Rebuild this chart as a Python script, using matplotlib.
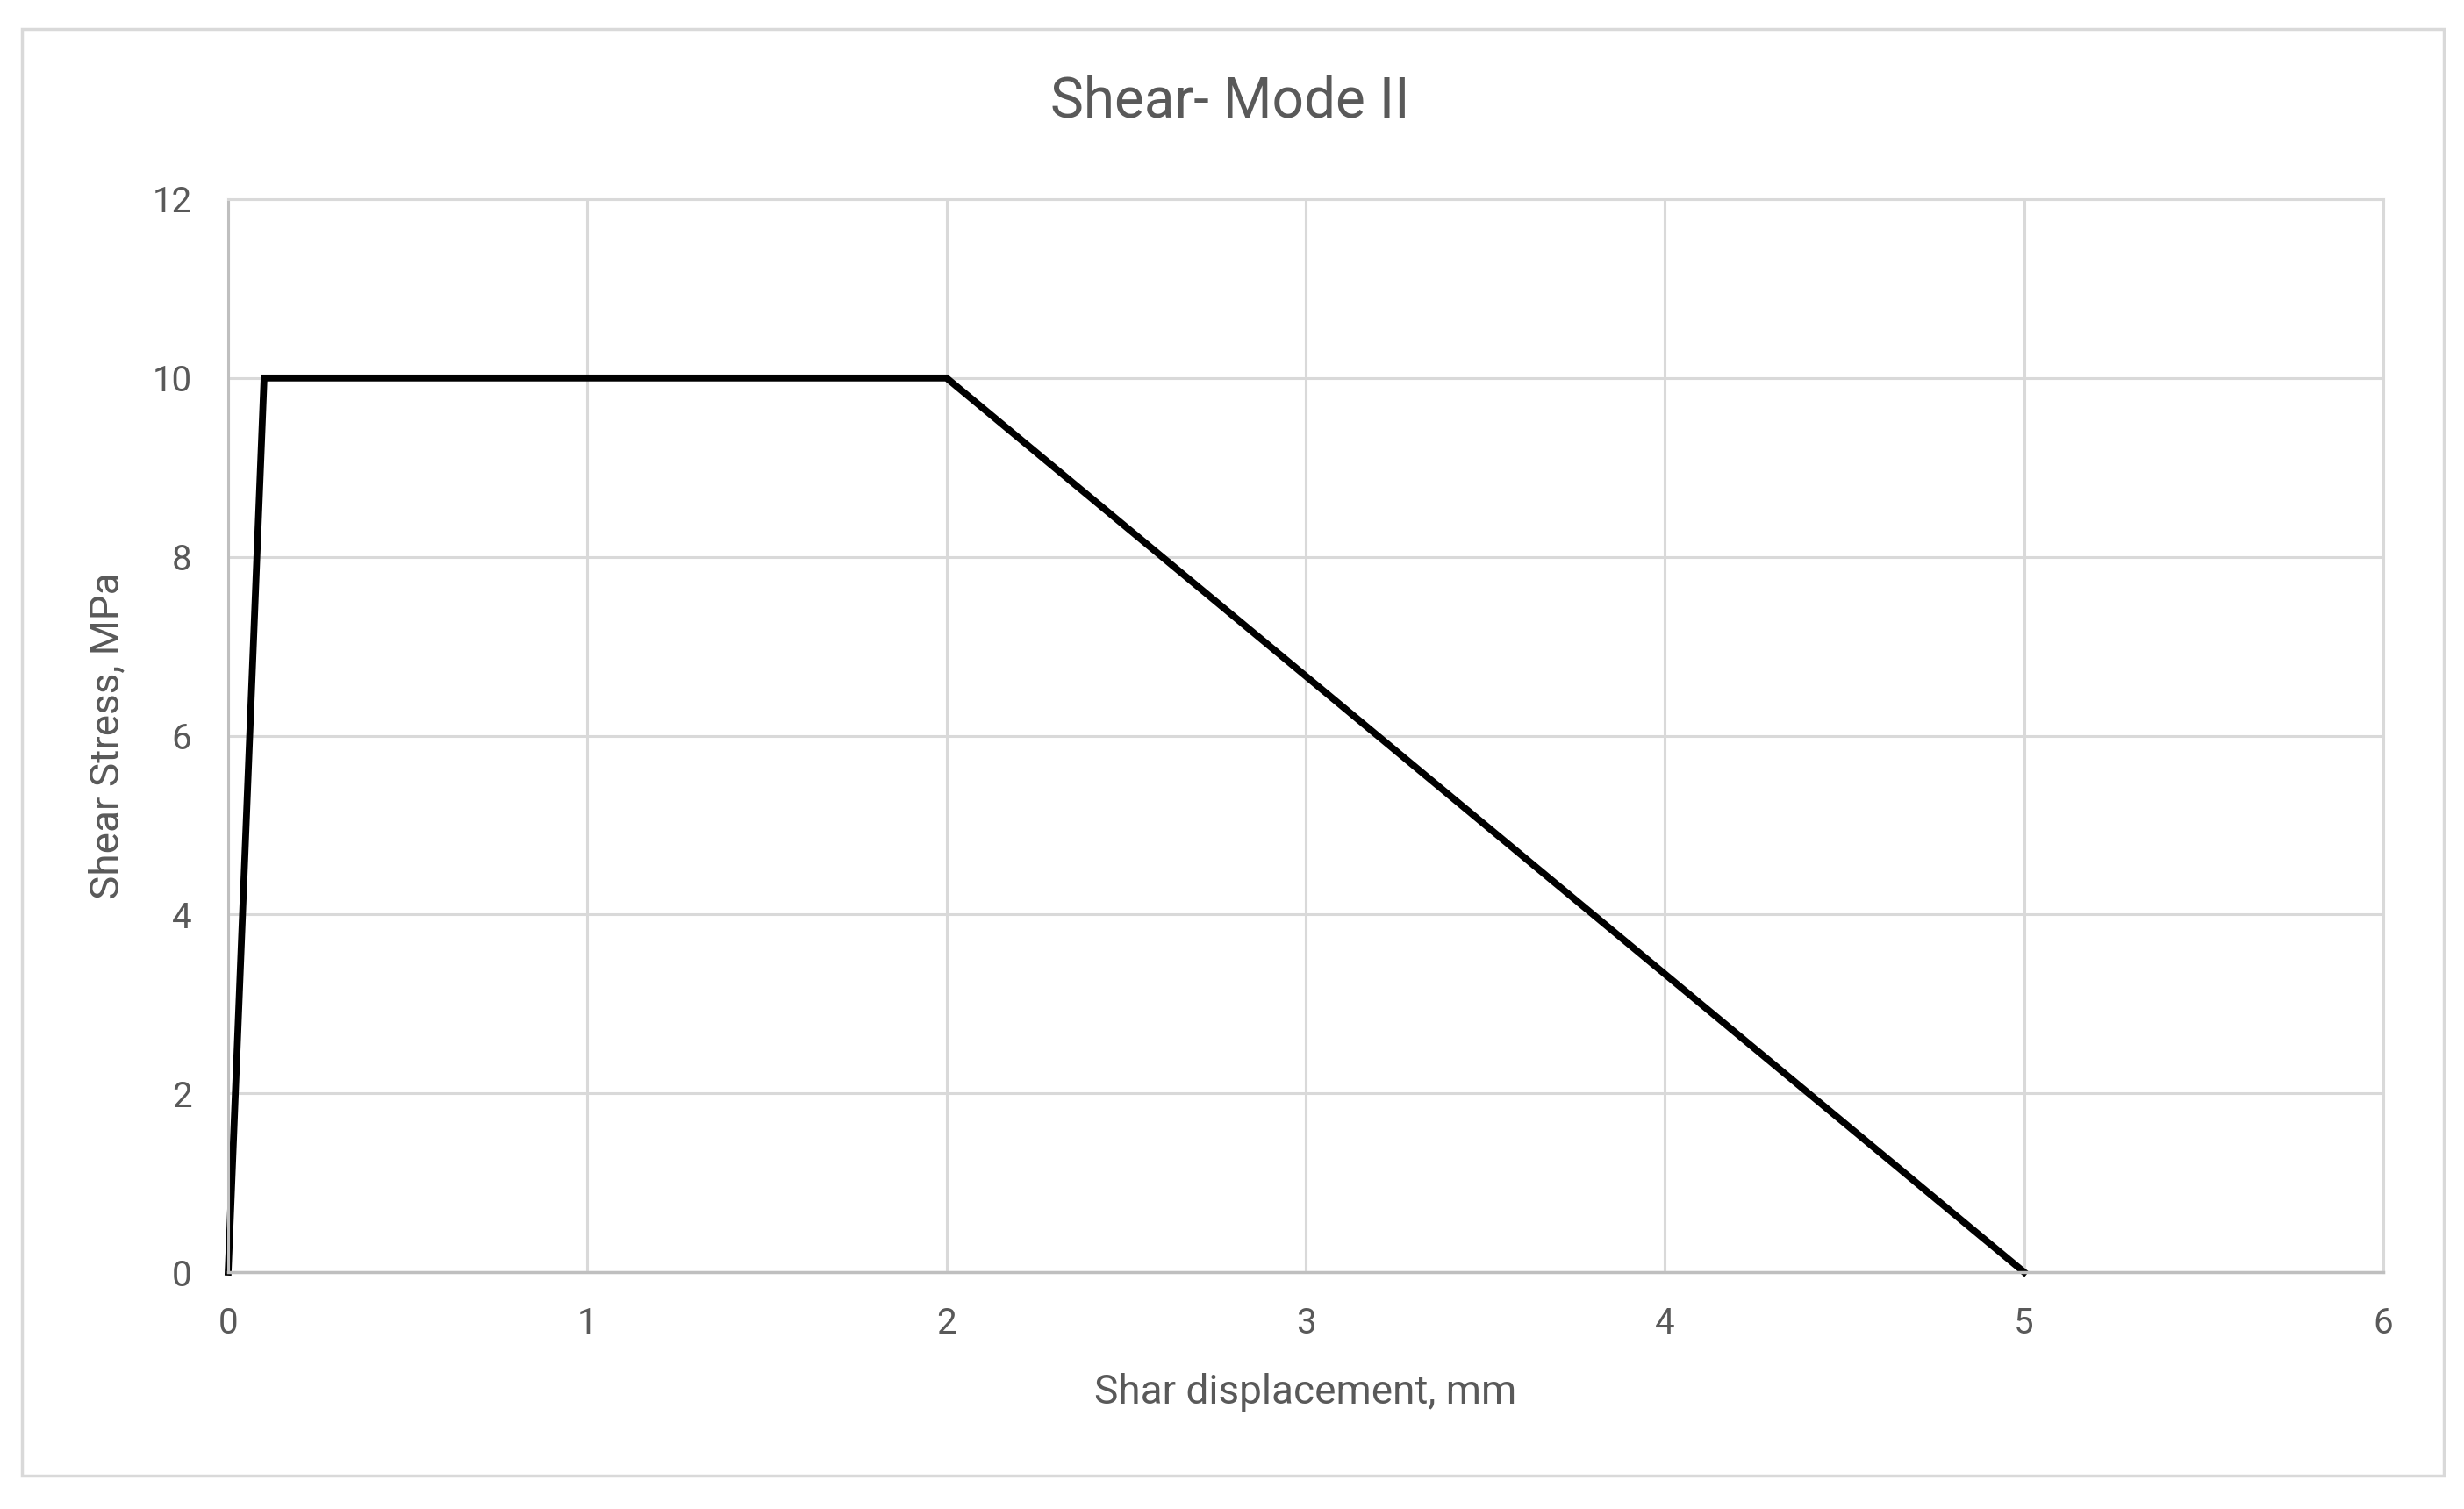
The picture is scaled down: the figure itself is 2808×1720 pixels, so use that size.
import matplotlib
matplotlib.use("Agg")
import matplotlib.pyplot as plt
from matplotlib.patches import Rectangle

displacement = [0, 0.1, 2, 5]
stress = [0, 10, 10, 0]
x_ticks = [0, 1, 2, 3, 4, 5, 6]
y_ticks = [0, 2, 4, 6, 8, 10, 12]
title = "Shear- Mode II"
x_label = "Shar displacement, mm"
y_label = "Shear Stress, MPa"

W, H = 2808, 1720
DPI = 100
plt.rcParams['font.family'] = ['Roboto', 'DejaVu Sans']
text_color = "#595959"
grid_color = "#d9d9d9"

fig = plt.figure(figsize=(W / DPI, H / DPI), dpi=DPI, facecolor="white")

# outer chart border
fig.patches.append(Rectangle((25 / W, 1 - 1682 / H), (2785 - 25) / W, (1682 - 33) / H,
                             transform=fig.transFigure, fill=False,
                             edgecolor=grid_color, linewidth=2.5))

left, right, top, bottom = 260, 2716, 227, 1450
ax = fig.add_axes([left / W, 1 - bottom / H, (right - left) / W, (bottom - top) / H])
ax.set_xlim(0, 6)
ax.set_ylim(0, 12)
ax.set_xticks(x_ticks)
ax.set_yticks(y_ticks)
ax.grid(True, color=grid_color, linewidth=2.2)
ax.set_axisbelow(True)
for s in ["top", "right", "left"]:
    ax.spines[s].set_color(grid_color)
    ax.spines[s].set_linewidth(2.2)
ax.spines["left"].set_color("#bfbfbf")
ax.spines["bottom"].set_color("#bfbfbf")
ax.spines["bottom"].set_linewidth(2.5)
ax.tick_params(length=0, labelsize=29, colors=text_color)
ax.tick_params(axis="y", pad=30)
ax.tick_params(axis="x", pad=28)

ax.plot(displacement, stress, color="black", linewidth=5.6, solid_joinstyle="miter",
        clip_on=False)

fig.text(1402 / W, 1 - 116 / H, title, ha="center", va="center", fontsize=46, color=text_color)
fig.text((left + right) / 2 / W, 1 - 1587 / H, x_label, ha="center", va="center",
         fontsize=33, color=text_color)
fig.text(122 / W, 1 - ((top + bottom) / 2) / H, y_label, ha="center", va="center",
         rotation=90, fontsize=33, color=text_color)

fig.savefig("out.png", dpi=DPI, facecolor="white")
